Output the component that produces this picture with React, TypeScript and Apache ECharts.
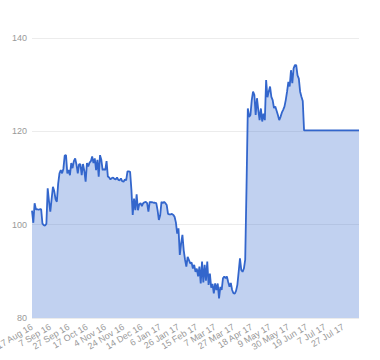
import React, { useEffect, useRef } from "react";
import * as echarts from "echarts";

// First trading day shown and UK market holidays (non-trading weekdays)
const START_DATE = "2016-08-17";
const UK_HOLIDAYS = [
  "2016-08-29", "2016-12-26", "2016-12-27", "2017-01-02", "2017-04-14",
  "2017-04-17", "2017-05-01", "2017-05-29", "2017-08-28",
];
const MONTHS = ["Jan", "Feb", "Mar", "Apr", "May", "Jun", "Jul", "Aug", "Sep", "Oct", "Nov", "Dec"];

// Daily closing prices (one per trading day)
const PRICES = [
  103.0, 100.4, 104.6, 103.3, 103.3, 103.2, 103.3, 103.3, 100.2, 99.9,
  99.8, 100.2, 107.8, 105.0, 102.8, 105.5, 108.1, 107.2, 105.5, 104.9,
  108.8, 111.0, 111.7, 111.0, 112.0, 114.8, 114.9, 111.0, 111.7, 110.6,
  113.2, 112.1, 113.6, 114.2, 112.9, 111.0, 113.0, 112.9, 110.6, 113.0,
  111.5, 109.2, 113.2, 112.5, 113.3, 113.6, 114.6, 113.2, 114.2, 111.7,
  113.9, 110.3, 114.9, 113.9, 111.7, 111.9, 111.7, 113.6, 110.3, 110.1,
  109.7, 110.0, 110.1, 109.8, 109.7, 110.1, 109.6, 109.5, 109.9, 109.3,
  109.2, 109.7, 109.5, 111.4, 111.4, 111.3, 107.5, 102.1, 105.6, 103.1,
  106.5, 103.1, 104.4, 104.6, 104.0, 104.6, 104.8, 104.9, 104.6, 102.8,
  104.9, 104.8, 104.8, 104.7, 104.7, 104.6, 103.1, 101.0, 102.0, 104.9,
  104.6, 104.9, 104.6, 104.2, 102.3, 102.2, 102.2, 102.3, 102.1, 101.7,
  100.5, 98.1, 99.2, 93.5, 96.0, 97.8, 94.5, 92.5, 91.0, 93.1,
  92.4, 91.7, 91.9, 90.6, 91.4, 89.9, 90.6, 88.9, 91.0, 87.4,
  92.1, 87.6, 91.4, 88.0, 92.1, 87.1, 89.5, 86.5, 87.3, 85.3,
  87.4, 86.0, 87.4, 84.2, 86.7, 86.0, 88.5, 88.9, 88.5, 88.9,
  87.7, 86.7, 87.5, 86.0, 85.3, 85.2, 85.8, 87.1, 89.9, 92.8,
  90.3, 89.9, 90.6, 92.5, 108.0, 124.9, 123.1, 123.5, 126.7, 128.5,
  127.8, 123.5, 127.1, 124.6, 122.4, 124.9, 122.1, 123.8, 122.4, 131.0,
  127.3, 128.5, 129.6, 127.4, 126.7, 125.0, 125.3, 124.4, 123.5, 122.4,
  123.1, 124.0, 124.6, 125.3, 126.7, 128.5, 130.6, 129.6, 133.1, 130.3,
  133.5, 134.2, 134.2, 132.0, 131.3, 128.5, 127.4, 126.5, 120.2, 120.2,
  120.2, 120.2, 120.2, 120.2, 120.2, 120.2, 120.2, 120.2, 120.2, 120.2,
  120.2, 120.2, 120.2, 120.2, 120.2, 120.2, 120.2, 120.2, 120.2, 120.2,
  120.2, 120.2, 120.2, 120.2, 120.2, 120.2, 120.2, 120.2, 120.2, 120.2,
  120.2, 120.2, 120.2, 120.2, 120.2, 120.2, 120.2, 120.2, 120.2, 120.2,
  120.2,
];

const Y_MIN = 80;
const Y_MAX = 140;
const Y_STEP = 20;
const LABEL_EVERY = 14;

function tradingDays(count: number): string[] {
  const out: string[] = [];
  const d = new Date(START_DATE + "T00:00:00Z");
  while (out.length < count) {
    const wd = d.getUTCDay();
    const iso = d.toISOString().slice(0, 10);
    if (wd !== 0 && wd !== 6 && !UK_HOLIDAYS.includes(iso)) {
      const yy = String(d.getUTCFullYear() % 100).padStart(2, "0");
      out.push(`${d.getUTCDate()} ${MONTHS[d.getUTCMonth()]} ${yy}`);
    }
    d.setUTCDate(d.getUTCDate() + 1);
  }
  return out;
}

export default function App() {
  const ref = useRef<HTMLDivElement>(null);
  useEffect(() => {
    if (!ref.current) return;
    const chart = echarts.init(ref.current, undefined, { renderer: "svg" });
    const dates = tradingDays(PRICES.length);
    chart.setOption({
      animation: false,
      textStyle: { fontFamily: "Arial, 'Liberation Sans', sans-serif" },
      grid: { left: 32, right: 21, top: 38, bottom: 42, outerBoundsMode: "none", containLabel: false },
      xAxis: {
        type: "category",
        data: dates,
        boundaryGap: false,
        axisLine: { show: false },
        axisTick: { show: false },
        splitLine: { show: false },
        axisLabel: {
          interval: LABEL_EVERY - 1,
          rotate: 31,
          fontSize: 9,
          color: "#999999",
          margin: 8,
        },
      },
      yAxis: {
        type: "value",
        min: Y_MIN,
        max: Y_MAX,
        interval: Y_STEP,
        axisLine: { show: false },
        axisTick: { show: false },
        axisLabel: { fontSize: 9, color: "#999999", margin: 5 },
        splitLine: { lineStyle: { color: "#ececec", width: 1 } },
      },
      series: [
        {
          type: "line",
          data: PRICES,
          showSymbol: false,
          lineStyle: { color: "#3366cc", width: 1.8 },
          itemStyle: { color: "#3366cc" },
          areaStyle: { color: "#3366cc", opacity: 0.3 },
        },
      ],
    });
    return () => chart.dispose();
  }, []);
  return (
    <div
      ref={ref}
      style={{ position: "fixed", left: 0, top: 0, width: 380, height: 360, background: "#fff" }}
    />
  );
}
